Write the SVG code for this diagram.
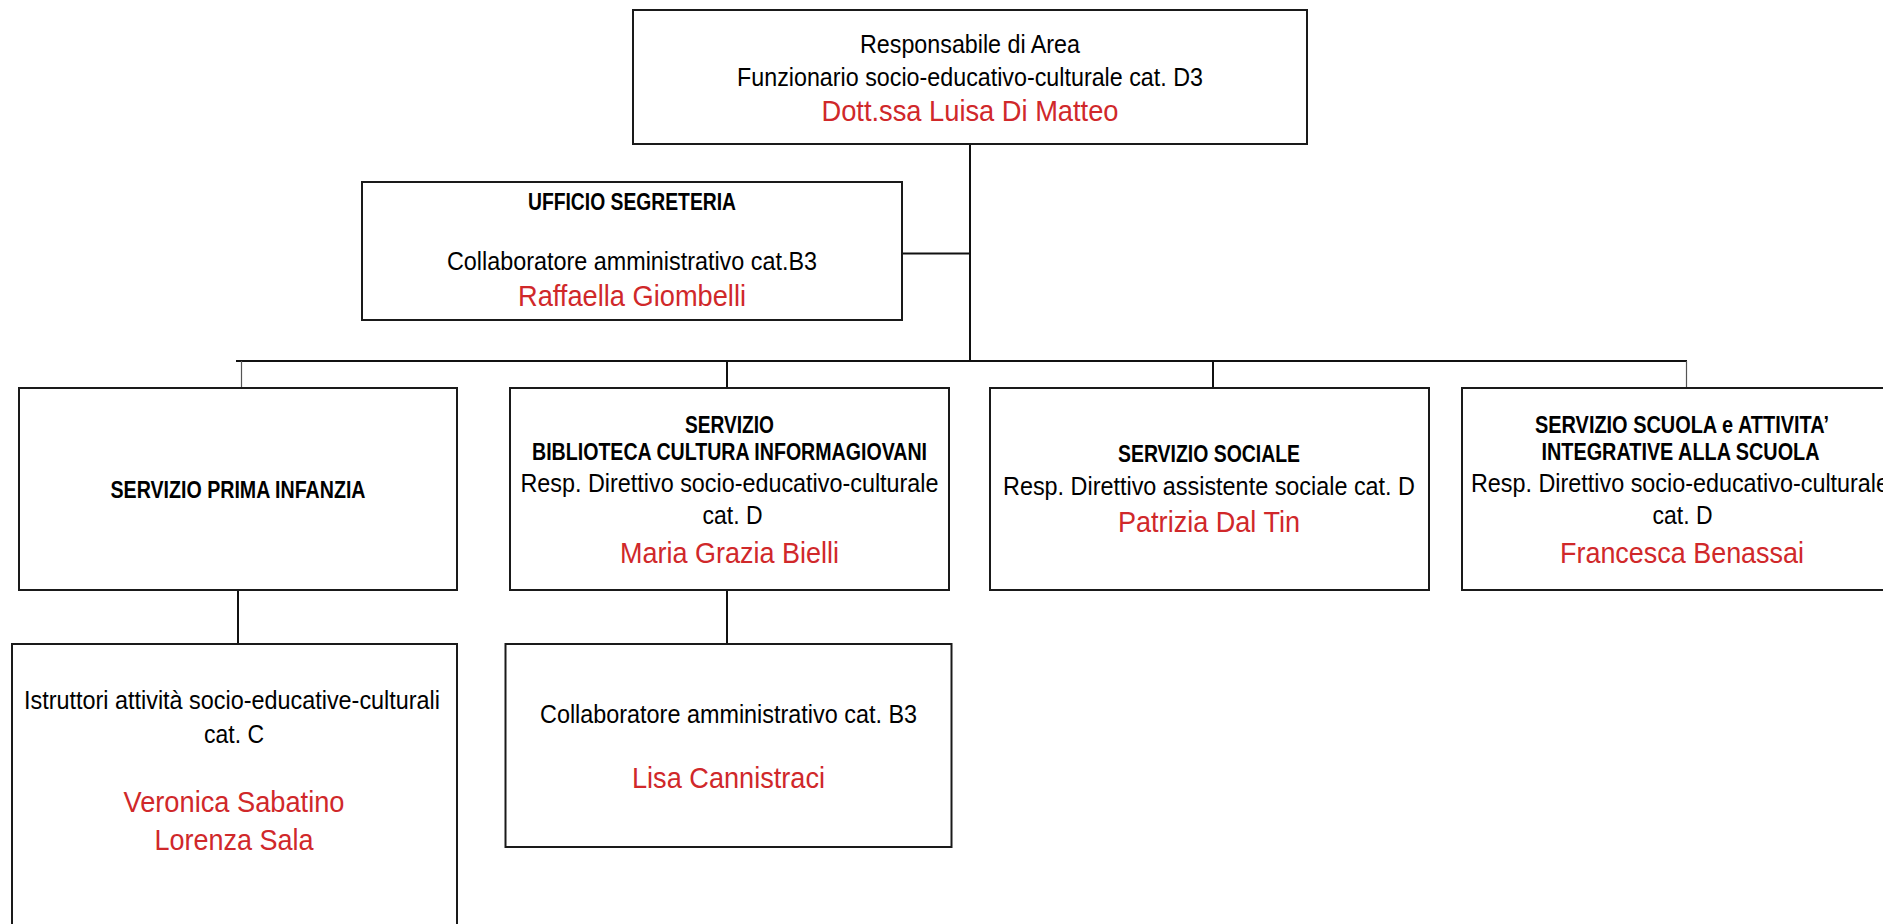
<svg xmlns="http://www.w3.org/2000/svg" width="1883" height="924" viewBox="0 0 1883 924">
<style>
.box{fill:#fff;stroke:#1a1a1a;stroke-width:2}
.ln{stroke:#111;stroke-width:2;fill:none}
.thin{stroke:#555;stroke-width:1.2;fill:none}
text{font-family:"Liberation Sans",Arial,sans-serif;text-anchor:middle}
.b{font-weight:bold;font-size:23.5px;fill:#000}
.t{font-size:26px;fill:#000}
.r{font-size:30px;fill:#d0282a}
</style>
<rect width="1883" height="924" fill="#fff"/>
<g id="connectors">
<line class="ln" x1="970" y1="144" x2="970" y2="361"/>
<line class="ln" x1="902" y1="253.5" x2="970" y2="253.5"/>
<line class="ln" x1="236" y1="361" x2="1687" y2="361"/>
<line class="thin" x1="241.5" y1="361" x2="241.5" y2="388"/>
<line class="ln" x1="727" y1="361" x2="727" y2="388"/>
<line class="ln" x1="1213" y1="361" x2="1213" y2="388"/>
<line class="thin" x1="1686.5" y1="361" x2="1686.5" y2="388"/>
<line class="ln" x1="238" y1="590" x2="238" y2="644"/>
<line class="ln" x1="727" y1="590" x2="727" y2="644"/>
</g>
<g id="n-area">
<rect class="box" x="633" y="10" width="674" height="134"/>
<text class="t" x="970" y="53" textLength="220" lengthAdjust="spacingAndGlyphs">Responsabile di Area</text>
<text class="t" x="970" y="86" textLength="466" lengthAdjust="spacingAndGlyphs">Funzionario socio-educativo-culturale cat. D3</text>
<text class="r" x="970" y="121" textLength="297" lengthAdjust="spacingAndGlyphs">Dott.ssa Luisa Di Matteo</text>
</g>
<g id="n-segreteria">
<rect class="box" x="362" y="182" width="540" height="138"/>
<text class="b" x="632" y="210" textLength="208" lengthAdjust="spacingAndGlyphs">UFFICIO SEGRETERIA</text>
<text class="t" x="632" y="270" textLength="370" lengthAdjust="spacingAndGlyphs">Collaboratore amministrativo cat.B3</text>
<text class="r" x="632" y="306" textLength="228" lengthAdjust="spacingAndGlyphs">Raffaella Giombelli</text>
</g>
<g id="n-infanzia">
<rect class="box" x="19" y="388" width="438" height="202"/>
<text class="b" x="238" y="498" textLength="255" lengthAdjust="spacingAndGlyphs">SERVIZIO PRIMA INFANZIA</text>
</g>
<g id="n-biblioteca">
<rect class="box" x="510" y="388" width="439" height="202"/>
<text class="b" x="729.5" y="432.5" textLength="89" lengthAdjust="spacingAndGlyphs">SERVIZIO</text>
<text class="b" x="729.5" y="460.2" textLength="395" lengthAdjust="spacingAndGlyphs">BIBLIOTECA CULTURA INFORMAGIOVANI</text>
<text class="t" x="729.5" y="491.5" textLength="418" lengthAdjust="spacingAndGlyphs">Resp. Direttivo socio-educativo-culturale</text>
<text class="t" x="732.5" y="524" textLength="60" lengthAdjust="spacingAndGlyphs">cat. D</text>
<text class="r" x="729.5" y="562.5" textLength="219" lengthAdjust="spacingAndGlyphs">Maria Grazia Bielli</text>
</g>
<g id="n-sociale">
<rect class="box" x="990" y="388" width="439" height="202"/>
<text class="b" x="1209" y="462.2" textLength="182" lengthAdjust="spacingAndGlyphs">SERVIZIO SOCIALE</text>
<text class="t" x="1209" y="495" textLength="412" lengthAdjust="spacingAndGlyphs">Resp. Direttivo assistente sociale cat. D</text>
<text class="r" x="1209" y="532" textLength="182" lengthAdjust="spacingAndGlyphs">Patrizia Dal Tin</text>
</g>
<g id="n-scuola">
<rect class="box" x="1462" y="388" width="439" height="202"/>
<text class="b" x="1682" y="432.5" textLength="294" lengthAdjust="spacingAndGlyphs">SERVIZIO SCUOLA e ATTIVITA’</text>
<text class="b" x="1680.5" y="460.2" textLength="278" lengthAdjust="spacingAndGlyphs">INTEGRATIVE ALLA SCUOLA</text>
<text class="t" x="1680" y="491.5" textLength="418" lengthAdjust="spacingAndGlyphs">Resp. Direttivo socio-educativo-culturale</text>
<text class="t" x="1682.5" y="524" textLength="60" lengthAdjust="spacingAndGlyphs">cat. D</text>
<text class="r" x="1682" y="562.5" textLength="244" lengthAdjust="spacingAndGlyphs">Francesca Benassai</text>
</g>
<g id="n-istruttori">
<rect class="box" x="12" y="644" width="445" height="300"/>
<text class="t" x="232" y="709" textLength="416" lengthAdjust="spacingAndGlyphs">Istruttori attività socio-educative-culturali</text>
<text class="t" x="234" y="742.5" textLength="60" lengthAdjust="spacingAndGlyphs">cat. C</text>
<text class="r" x="234" y="812" textLength="221" lengthAdjust="spacingAndGlyphs">Veronica Sabatino</text>
<text class="r" x="234" y="850" textLength="159" lengthAdjust="spacingAndGlyphs">Lorenza Sala</text>
</g>
<g id="n-collaboratore">
<rect class="box" x="505.5" y="644" width="446" height="203"/>
<text class="t" x="728.5" y="723" textLength="377" lengthAdjust="spacingAndGlyphs">Collaboratore amministrativo cat. B3</text>
<text class="r" x="728.5" y="788" textLength="193" lengthAdjust="spacingAndGlyphs">Lisa Cannistraci</text>
</g>
</svg>
